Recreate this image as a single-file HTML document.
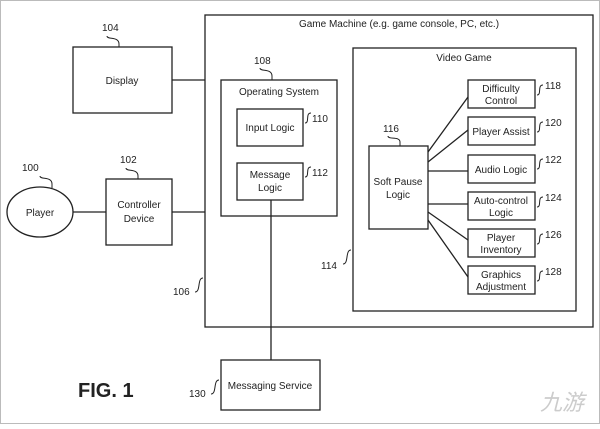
<!DOCTYPE html>
<html><head><style>
body{margin:0;background:#fff}
svg text{font-family:"Liberation Sans",sans-serif;font-size:10px;fill:#222}
</style></head><body>
<svg width="600" height="424" viewBox="0 0 600 424" xmlns="http://www.w3.org/2000/svg">
<rect x="0.5" y="0.5" width="599" height="423" fill="#fff" stroke="#bbb"/>
<g fill="none" stroke="#222" stroke-width="1.3">
<rect x="205" y="15" width="388" height="312"/>
<rect x="73" y="47" width="99" height="66"/>
<ellipse cx="40" cy="212" rx="33" ry="25"/>
<rect x="106" y="179" width="66" height="66"/>
<rect x="221" y="80" width="116" height="136"/>
<rect x="237" y="109" width="66" height="37"/>
<rect x="237" y="163" width="66" height="37"/>
<rect x="221" y="360" width="99" height="50"/>
<rect x="353" y="48" width="223" height="263"/>
<rect x="369" y="146" width="59" height="83"/>
<rect x="468" y="80" width="67" height="28"/>
<rect x="468" y="117" width="67" height="28"/>
<rect x="468" y="155" width="67" height="28"/>
<rect x="468" y="192" width="67" height="28"/>
<rect x="468" y="229" width="67" height="28"/>
<rect x="468" y="266" width="67" height="28"/>
<path d="M172 80H205M73 212H106M172 212H205M271 200V360M428 152L468 97M428 162L468 130M428 171H468M428 204H468M428 212L468 240M428 220L468 277"/>
</g>
<g fill="none" stroke="#222" stroke-width="1">
<path d="M107 36c0 4 12 0 12 8v3M40 176c0 4 12 0 12 8v4M126 168c0 4 12 0 12 8v3M260 68c0 4 12 0 12 8v4M388 136c0 4 12 0 12 6v4"/>
<path d="M203 278c-6 0-2 14-8 14M351 250c-6 0-2 14-8 14M219 380c-6 0-2 14-8 14"/>
<path d="M537 95c5 0 0-10 6-10M537 132c5 0 0-10 6-10M537 169c5 0 0-10 6-10M537 207c5 0 0-10 6-10M537 244c5 0 0-10 6-10M537 281c5 0 0-10 6-10M305 123c5 0 0-10 6-10M305 177c5 0 0-10 6-10"/>
</g>
<text x="102" y="31">104</text>
<text x="122" y="84" text-anchor="middle">Display</text>
<text x="22" y="171">100</text>
<text x="40" y="216" text-anchor="middle">Player</text>
<text x="120" y="163">102</text>
<text x="139" y="208" text-anchor="middle">Controller</text>
<text x="139" y="222" text-anchor="middle">Device</text>
<text x="254" y="64">108</text>
<text x="279" y="95" text-anchor="middle">Operating System</text>
<text x="270" y="131" text-anchor="middle">Input Logic</text>
<text x="270" y="178" text-anchor="middle">Message</text>
<text x="270" y="191" text-anchor="middle">Logic</text>
<text x="312" y="122">110</text>
<text x="312" y="176">112</text>
<text x="399" y="27" text-anchor="middle">Game Machine (e.g. game console, PC, etc.)</text>
<text x="464" y="61" text-anchor="middle">Video Game</text>
<text x="383" y="132">116</text>
<text x="398" y="185" text-anchor="middle">Soft Pause</text>
<text x="398" y="198" text-anchor="middle">Logic</text>
<text x="501" y="92" text-anchor="middle">Difficulty</text>
<text x="501" y="104" text-anchor="middle">Control</text>
<text x="501" y="135" text-anchor="middle">Player Assist</text>
<text x="501" y="173" text-anchor="middle">Audio Logic</text>
<text x="501" y="204" text-anchor="middle">Auto-control</text>
<text x="501" y="216" text-anchor="middle">Logic</text>
<text x="501" y="241" text-anchor="middle">Player</text>
<text x="501" y="253" text-anchor="middle">Inventory</text>
<text x="501" y="278" text-anchor="middle">Graphics</text>
<text x="501" y="290" text-anchor="middle">Adjustment</text>
<text x="545" y="89">118</text>
<text x="545" y="126">120</text>
<text x="545" y="163">122</text>
<text x="545" y="201">124</text>
<text x="545" y="238">126</text>
<text x="545" y="275">128</text>
<text x="173" y="295">106</text>
<text x="321" y="269">114</text>
<text x="189" y="397">130</text>
<text x="270" y="389" text-anchor="middle">Messaging Service</text>
<text x="78" y="397" style="font-size:20px;font-weight:bold">FIG. 1</text>
<text x="540" y="410" style="font-size:22px;fill:#ccc;font-style:italic">九游</text>
</svg>
</body></html>
